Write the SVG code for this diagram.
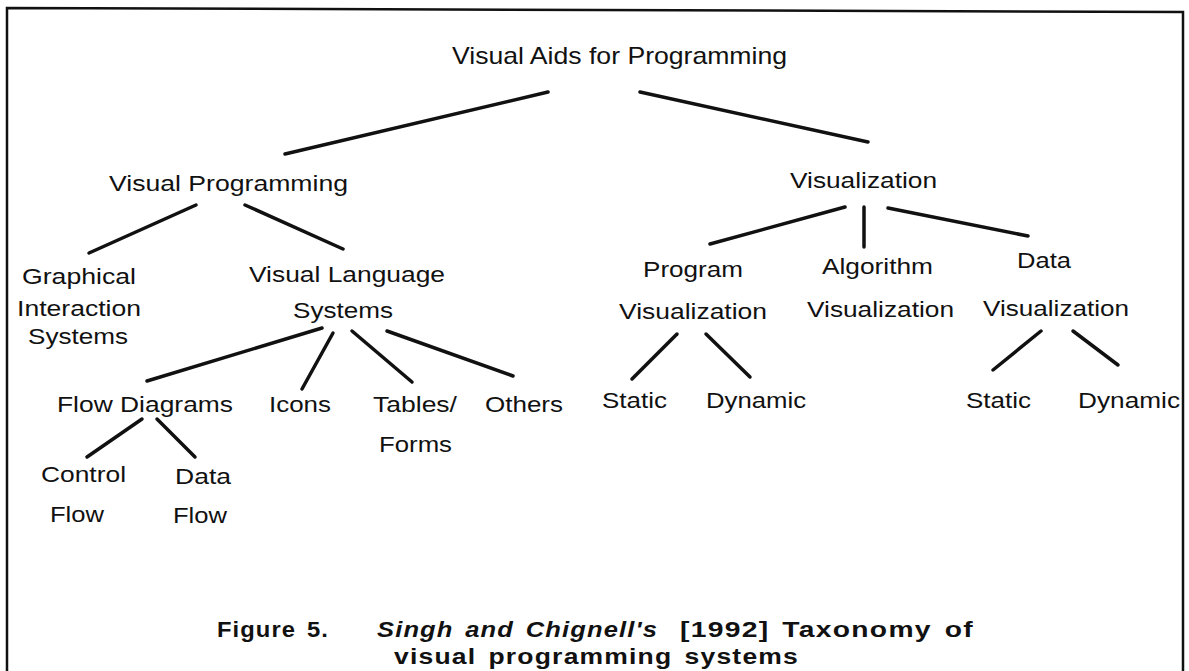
<svg xmlns="http://www.w3.org/2000/svg" width="1189" height="671" viewBox="0 0 1189 671">
<style>
  .t { font-family: "Liberation Sans", Arial, sans-serif; font-size: 22px; fill: #111; }
  .root { font-size: 24px; }
  .cap { font-family: "Liberation Sans", Arial, sans-serif; font-size: 22px; font-weight: bold; fill: #111; letter-spacing: 1px; word-spacing: 3px; }
  .it { font-style: italic; }
  .edge { stroke: #111; stroke-width: 3.5; stroke-linecap: round; fill: none; }
  .frame { stroke: #111; stroke-width: 2.5; fill: none; }
</style>
<rect width="1189" height="671" fill="#fff"/>
<path class="frame" d="M7,671 L7,8 L1183,12 L1183,671"/>
<g id="connectors">
  <line class="edge" x1="548" y1="92" x2="285" y2="154"/>
  <line class="edge" x1="640" y1="92" x2="868" y2="142"/>
  <line class="edge" x1="196" y1="205" x2="89" y2="253"/>
  <line class="edge" x1="245" y1="205" x2="343" y2="249"/>
  <line class="edge" x1="322" y1="328" x2="147" y2="381"/>
  <line class="edge" x1="333" y1="333" x2="302" y2="389"/>
  <line class="edge" x1="352" y1="331" x2="412" y2="382"/>
  <line class="edge" x1="387" y1="331" x2="513" y2="376"/>
  <line class="edge" x1="142" y1="419" x2="87" y2="457"/>
  <line class="edge" x1="157" y1="419" x2="195" y2="457"/>
  <line class="edge" x1="845" y1="207" x2="710" y2="244"/>
  <line class="edge" x1="864" y1="207" x2="864" y2="247"/>
  <line class="edge" x1="888" y1="208" x2="1028" y2="236"/>
  <line class="edge" x1="677" y1="334" x2="632" y2="379"/>
  <line class="edge" x1="706" y1="334" x2="750" y2="377"/>
  <line class="edge" x1="1041" y1="331" x2="993" y2="370"/>
  <line class="edge" x1="1073" y1="331" x2="1118" y2="365"/>
</g>
<g id="node-root"><text class="t root" x="452" y="64" textLength="335" lengthAdjust="spacingAndGlyphs">Visual Aids for Programming</text></g>
<g id="node-visual-programming"><text class="t" x="109" y="191" textLength="239" lengthAdjust="spacingAndGlyphs">Visual Programming</text></g>
<g id="node-visualization"><text class="t" x="790" y="188" textLength="147" lengthAdjust="spacingAndGlyphs">Visualization</text></g>
<g id="node-graphical-interaction">
  <text class="t" x="22" y="284" textLength="114" lengthAdjust="spacingAndGlyphs">Graphical</text>
  <text class="t" x="17" y="316" textLength="124" lengthAdjust="spacingAndGlyphs">Interaction</text>
  <text class="t" x="28" y="344" textLength="100" lengthAdjust="spacingAndGlyphs">Systems</text>
</g>
<g id="node-visual-language">
  <text class="t" x="249" y="282" textLength="196" lengthAdjust="spacingAndGlyphs">Visual Language</text>
  <text class="t" x="293" y="318" textLength="100" lengthAdjust="spacingAndGlyphs">Systems</text>
</g>
<g id="node-flow-diagrams"><text class="t" x="57" y="412" textLength="176" lengthAdjust="spacingAndGlyphs">Flow Diagrams</text></g>
<g id="node-icons"><text class="t" x="269" y="412" textLength="62" lengthAdjust="spacingAndGlyphs">Icons</text></g>
<g id="node-tables-forms">
  <text class="t" x="373" y="412" textLength="84" lengthAdjust="spacingAndGlyphs">Tables/</text>
  <text class="t" x="379" y="452" textLength="73" lengthAdjust="spacingAndGlyphs">Forms</text>
</g>
<g id="node-others"><text class="t" x="485" y="412" textLength="78" lengthAdjust="spacingAndGlyphs">Others</text></g>
<g id="node-control-flow">
  <text class="t" x="41" y="482" textLength="85" lengthAdjust="spacingAndGlyphs">Control</text>
  <text class="t" x="50" y="522" textLength="54" lengthAdjust="spacingAndGlyphs">Flow</text>
</g>
<g id="node-data-flow">
  <text class="t" x="175" y="484" textLength="56" lengthAdjust="spacingAndGlyphs">Data</text>
  <text class="t" x="173" y="523" textLength="54" lengthAdjust="spacingAndGlyphs">Flow</text>
</g>
<g id="node-program-visualization">
  <text class="t" x="643" y="277" textLength="100" lengthAdjust="spacingAndGlyphs">Program</text>
  <text class="t" x="619" y="319" textLength="148" lengthAdjust="spacingAndGlyphs">Visualization</text>
</g>
<g id="node-algorithm-visualization">
  <text class="t" x="822" y="274" textLength="111" lengthAdjust="spacingAndGlyphs">Algorithm</text>
  <text class="t" x="807" y="317" textLength="147" lengthAdjust="spacingAndGlyphs">Visualization</text>
</g>
<g id="node-data-visualization">
  <text class="t" x="1017" y="268" textLength="54" lengthAdjust="spacingAndGlyphs">Data</text>
  <text class="t" x="983" y="316" textLength="146" lengthAdjust="spacingAndGlyphs">Visualization</text>
</g>
<g id="node-pv-static"><text class="t" x="602" y="408" textLength="65" lengthAdjust="spacingAndGlyphs">Static</text></g>
<g id="node-pv-dynamic"><text class="t" x="706" y="408" textLength="100" lengthAdjust="spacingAndGlyphs">Dynamic</text></g>
<g id="node-dv-static"><text class="t" x="966" y="408" textLength="65" lengthAdjust="spacingAndGlyphs">Static</text></g>
<g id="node-dv-dynamic"><text class="t" x="1078" y="408" textLength="102" lengthAdjust="spacingAndGlyphs">Dynamic</text></g>
<g id="caption">
  <text class="cap" x="217" y="637" textLength="112" lengthAdjust="spacingAndGlyphs">Figure 5.</text>
  <text class="cap it" x="377" y="637" textLength="281" lengthAdjust="spacingAndGlyphs">Singh and Chignell's</text>
  <text class="cap" x="680" y="637" textLength="294" lengthAdjust="spacingAndGlyphs">[1992] Taxonomy of</text>
  <text class="cap" x="394" y="664" textLength="405" lengthAdjust="spacingAndGlyphs">visual programming systems</text>
</g>
</svg>
